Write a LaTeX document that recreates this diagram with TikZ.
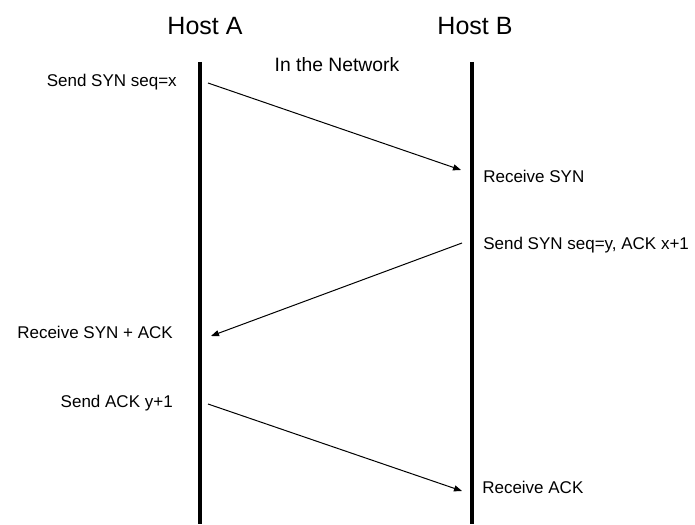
\documentclass[tikz,border=0pt]{standalone}
\usepackage{fontspec}
\setmainfont{Liberation Sans}
\usetikzlibrary{arrows.meta}

\begin{document}
\begin{tikzpicture}[x=0.75pt, y=-0.75pt, every node/.style={inner sep=0pt, font=\fontsize{12.75}{15}\selectfont}, msg/.style={draw=black, line width=0.75pt, -{Triangle[length=6pt, width=4.5pt]}}, host/.style={draw=black, line width=3pt}]
			\useasboundingbox (0,0) rectangle (695,524);
			
			\node[anchor=base, font=\fontsize{18.75}{22}\selectfont] (hostA) at (205,35){Host A};
			\node[anchor=base, font=\fontsize{18.75}{22}\selectfont] (hostB) at (475,35){Host B};
			\node[anchor=base, font=\fontsize{14.5}{17}\selectfont] (net) at (337,72){In the Network};
			
			\coordinate (a0) at (200,62);
			\coordinate (a1) at (200,524);
			\coordinate (b0) at (472,62);
			\coordinate (b1) at (472,524);
			\path[host] (a0) -- (a1);
			\path[host] (b0) -- (b1);
			
			\node[anchor=base east] (s1) at (177,87){Send SYN seq=x};
			\node[anchor=base west] (r1) at (483,182){Receive SYN};
			\node[anchor=base west] (s2) at (483,249){Send SYN seq=y, ACK x+1};
			\node[anchor=base east] (r2) at (173,338){Receive SYN + ACK};
			\node[anchor=base east] (s3) at (173,407){Send ACK y+1};
			\node[anchor=base west] (r3) at (482,493){Receive ACK};
			
			\coordinate (m1a) at (208,83);
			\coordinate (m1b) at (461,170);
			\coordinate (m2a) at (462,243);
			\coordinate (m2b) at (211,336);
			\coordinate (m3a) at (208,404);
			\coordinate (m3b) at (462,491);
			\path[msg] (m1a) -- (m1b);
			\path[msg] (m2a) -- (m2b);
			\path[msg] (m3a) -- (m3b);
			\end{tikzpicture}
\end{document}
